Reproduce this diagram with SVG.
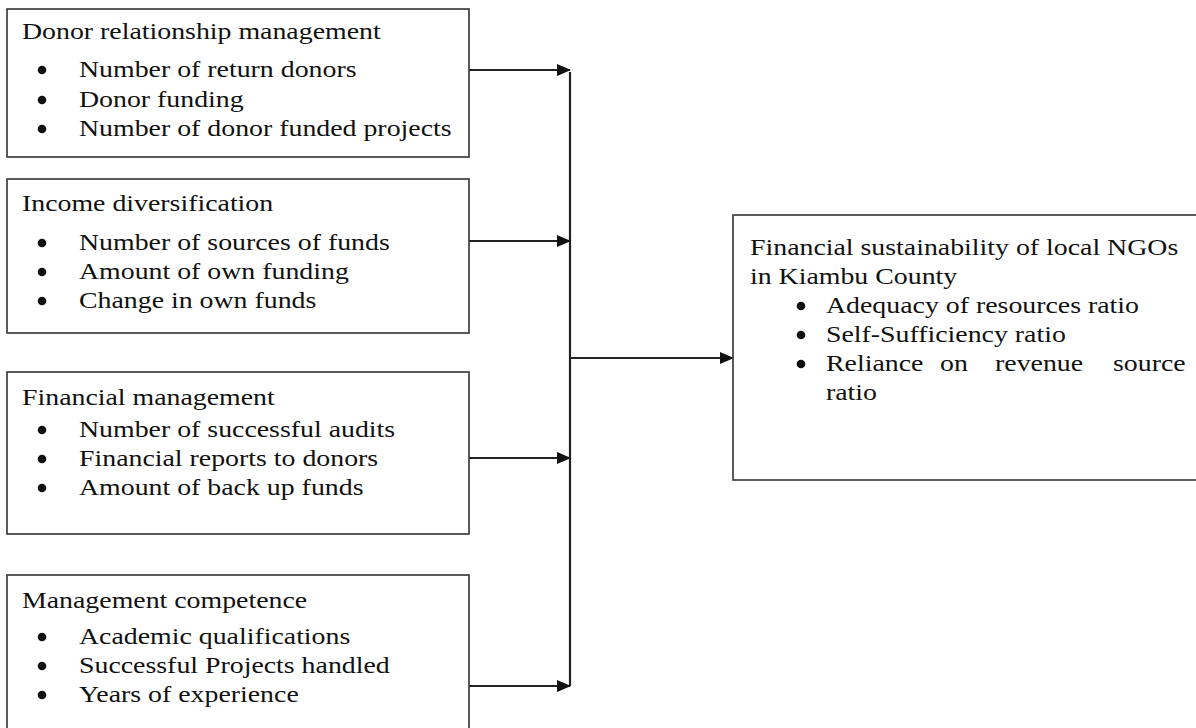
<svg xmlns="http://www.w3.org/2000/svg" width="1196" height="728" viewBox="0 0 1196 728">
<defs>
<marker id="ah" markerWidth="14" markerHeight="12" refX="13" refY="6" orient="auto" markerUnits="userSpaceOnUse">
<path d="M0,0 L14,6 L0,12 Z" fill="#111"/>
</marker>
<style>
.box{fill:#fff;stroke:#333;stroke-width:1.6}
.t{font-family:"Liberation Serif","Times New Roman",serif;font-size:24px;fill:#111}
.b{fill:#111}
.c{stroke:#222;stroke-width:2.2;fill:none}
</style>
</defs>
<rect width="1196" height="728" fill="#fff"/>
<g id="connectors">
<line class="c" x1="570" y1="72" x2="570" y2="686"/>
<line class="c" x1="469" y1="70" x2="570" y2="70" marker-end="url(#ah)"/>
<line class="c" x1="469" y1="241" x2="570" y2="241" marker-end="url(#ah)"/>
<line class="c" x1="469" y1="458" x2="570" y2="458" marker-end="url(#ah)"/>
<line class="c" x1="469" y1="686" x2="570" y2="686" marker-end="url(#ah)"/>
<line class="c" x1="570" y1="358" x2="733" y2="358" marker-end="url(#ah)"/>
</g>
<g id="donor">
<rect class="box" x="7" y="9" width="462" height="148"/>
<text class="t" transform="translate(22,39) scale(1.16,1)">Donor relationship management</text>
<circle class="b" cx="42" cy="70" r="4.3"/>
<text class="t" transform="translate(79,77) scale(1.16,1)">Number of return donors</text>
<circle class="b" cx="42" cy="100" r="4.3"/>
<text class="t" transform="translate(79,107) scale(1.16,1)">Donor funding</text>
<circle class="b" cx="42" cy="129" r="4.3"/>
<text class="t" transform="translate(79,136) scale(1.16,1)">Number of donor funded projects</text>
</g>
<g id="income">
<rect class="box" x="7" y="179" width="462" height="154"/>
<text class="t" transform="translate(22,211) scale(1.16,1)">Income diversification</text>
<circle class="b" cx="42" cy="243" r="4.3"/>
<text class="t" transform="translate(79,250) scale(1.16,1)">Number of sources of funds</text>
<circle class="b" cx="42" cy="272" r="4.3"/>
<text class="t" transform="translate(79,279) scale(1.16,1)">Amount of own funding</text>
<circle class="b" cx="42" cy="301" r="4.3"/>
<text class="t" transform="translate(79,308) scale(1.16,1)">Change in own funds</text>
</g>
<g id="financial">
<rect class="box" x="7" y="372" width="462" height="162"/>
<text class="t" transform="translate(22,405) scale(1.16,1)">Financial management</text>
<circle class="b" cx="42" cy="430" r="4.3"/>
<text class="t" transform="translate(79,437) scale(1.16,1)">Number of successful audits</text>
<circle class="b" cx="42" cy="459" r="4.3"/>
<text class="t" transform="translate(79,466) scale(1.16,1)">Financial reports to donors</text>
<circle class="b" cx="42" cy="488" r="4.3"/>
<text class="t" transform="translate(79,495) scale(1.16,1)">Amount of back up funds</text>
</g>
<g id="competence">
<rect class="box" x="7" y="575" width="462" height="170"/>
<text class="t" transform="translate(22,608) scale(1.16,1)">Management competence</text>
<circle class="b" cx="42" cy="637" r="4.3"/>
<text class="t" transform="translate(79,644) scale(1.16,1)">Academic qualifications</text>
<circle class="b" cx="42" cy="666" r="4.3"/>
<text class="t" transform="translate(79,673) scale(1.16,1)">Successful Projects handled</text>
<circle class="b" cx="42" cy="695" r="4.3"/>
<text class="t" transform="translate(79,702) scale(1.16,1)">Years of experience</text>
</g>
<g id="sustainability">
<rect class="box" x="733" y="215" width="470" height="265"/>
<text class="t" transform="translate(750,255) scale(1.16,1)">Financial sustainability of local NGOs</text>
<text class="t" transform="translate(750,284) scale(1.16,1)">in Kiambu County</text>
<circle class="b" cx="801" cy="306" r="4.3"/>
<text class="t" transform="translate(826,313) scale(1.16,1)">Adequacy of resources ratio</text>
<circle class="b" cx="801" cy="335" r="4.3"/>
<text class="t" transform="translate(826,342) scale(1.16,1)">Self-Sufficiency ratio</text>
<circle class="b" cx="801" cy="364" r="4.3"/>
<text class="t" transform="translate(826,371) scale(1.16,1)"><tspan x="0">Reliance</tspan><tspan x="98.3">on</tspan><tspan x="145.7">revenue</tspan><tspan x="247.4">source</tspan></text>
<text class="t" transform="translate(826,400) scale(1.16,1)">ratio</text>
</g>
</svg>
